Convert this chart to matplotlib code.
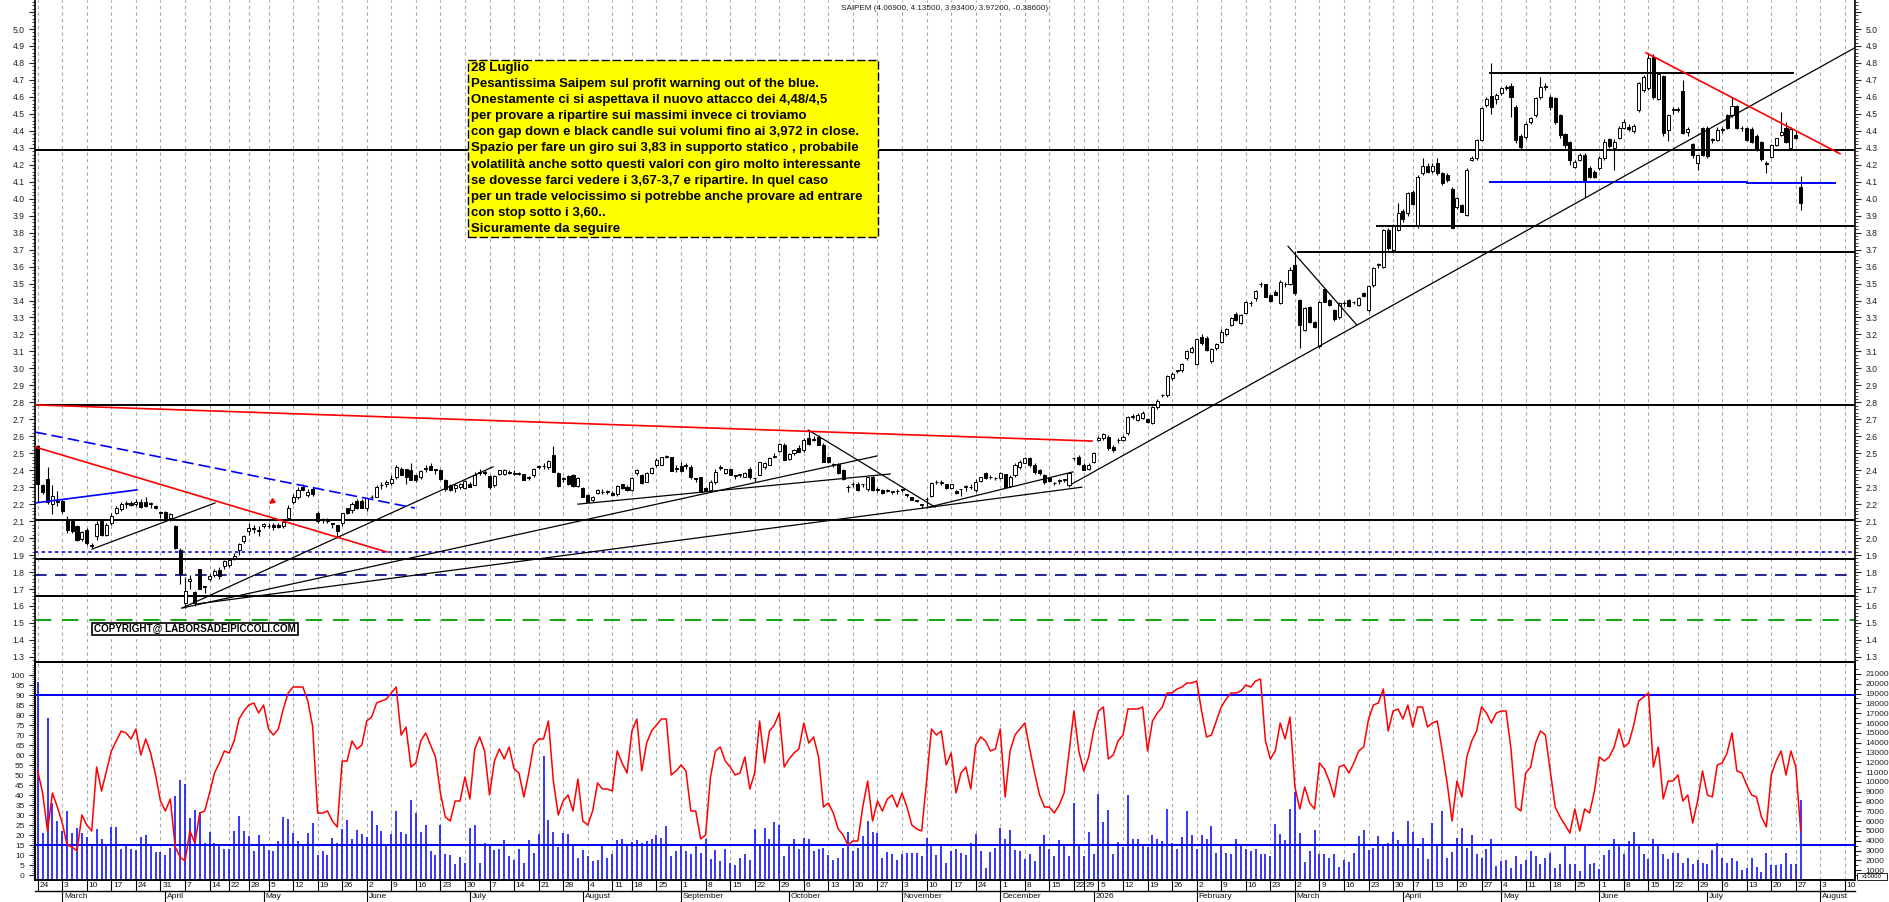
import numpy as np
import pandas as pd
import matplotlib
matplotlib.use("Agg")
import matplotlib.pyplot as plt
from matplotlib.patches import Rectangle

plt.rcParams['font.family'] = ['Liberation Sans', 'DejaVu Sans']

W, H = 1890, 902

# Borsa holidays inside the range (no candle)
holidays = ["2025-04-18", "2025-04-21", "2025-05-01", "2025-08-15", "2025-12-24",
            "2025-12-25", "2025-12-26", "2025-12-31", "2026-01-01", "2026-04-03",
            "2026-04-06", "2026-05-01"]

# daily candles: (open, high, low, close)
feb25 = [(2.54, 2.55, 2.215, 2.32), (2.31, 2.32, 2.26, 2.27), (2.35, 2.42, 2.20, 2.21),
         (2.20, 2.31, 2.14, 2.25), (2.22, 2.28, 2.19, 2.21)]
mar25 = [(2.22, 2.23, 2.15, 2.16), (2.11, 2.13, 2.03, 2.05), (2.10, 2.11, 2.03, 2.04),
         (2.07, 2.08, 1.98, 1.99), (1.995, 2.04, 1.98, 2.035), (2.05, 2.06, 1.96, 1.97),
         (1.96, 1.97, 1.94, 1.955), (2.01, 2.10, 1.99, 2.085), (2.10, 2.11, 2.01, 2.02),
         (2.02, 2.09, 2.01, 2.08), (2.09, 2.15, 2.08, 2.13), (2.15, 2.19, 2.14, 2.18),
         (2.17, 2.21, 2.16, 2.20), (2.20, 2.22, 2.18, 2.205), (2.205, 2.22, 2.19, 2.195),
         (2.20, 2.23, 2.19, 2.21), (2.21, 2.23, 2.18, 2.185), (2.215, 2.24, 2.185, 2.19),
         (2.205, 2.21, 2.18, 2.20), (2.19, 2.195, 2.17, 2.175), (2.155, 2.16, 2.12, 2.15)]
apr25 = [(2.155, 2.16, 2.11, 2.12), (2.12, 2.15, 2.10, 2.14), (2.07, 2.075, 1.935, 1.94),
         (1.93, 1.94, 1.73, 1.79), (1.62, 1.77, 1.59, 1.69), (1.75, 1.78, 1.70, 1.76),
         (1.68, 1.69, 1.60, 1.62), (1.82, 1.82, 1.70, 1.70), (1.715, 1.72, 1.675, 1.71),
         (1.76, 1.79, 1.75, 1.775), (1.78, 1.82, 1.77, 1.805), (1.81, 1.83, 1.76, 1.775),
         (1.835, 1.87, 1.82, 1.865), (1.84, 1.88, 1.83, 1.87), (1.885, 1.91, 1.87, 1.895),
         (1.93, 1.97, 1.90, 1.965), (1.985, 2.02, 1.97, 2.015), (2.04, 2.09, 2.02, 2.06),
         (2.06, 2.08, 2.03, 2.055), (2.05, 2.07, 2.01, 2.04)]
may25 = [(2.07, 2.09, 2.06, 2.085), (2.07, 2.09, 2.06, 2.072), (2.08, 2.09, 2.05, 2.063),
         (2.08, 2.09, 2.06, 2.063), (2.07, 2.11, 2.06, 2.095), (2.12, 2.195, 2.11, 2.18),
         (2.21, 2.26, 2.20, 2.24), (2.24, 2.30, 2.23, 2.285), (2.30, 2.32, 2.28, 2.285),
         (2.255, 2.29, 2.24, 2.27), (2.29, 2.30, 2.25, 2.26), (2.15, 2.16, 2.09, 2.10),
         (2.105, 2.12, 2.09, 2.11), (2.11, 2.12, 2.09, 2.10), (2.09, 2.09, 2.06, 2.085),
         (2.075, 2.08, 2.00, 2.04), (2.09, 2.15, 2.07, 2.145), (2.175, 2.18, 2.14, 2.146),
         (2.167, 2.21, 2.15, 2.20), (2.22, 2.23, 2.17, 2.18), (2.22, 2.23, 2.175, 2.18)]
jun25 = [(2.18, 2.24, 2.16, 2.235), (2.24, 2.255, 2.23, 2.245), (2.245, 2.31, 2.24, 2.30),
         (2.31, 2.33, 2.29, 2.315), (2.32, 2.34, 2.30, 2.33), (2.325, 2.37, 2.31, 2.35),
         (2.36, 2.43, 2.35, 2.42), (2.41, 2.42, 2.37, 2.37), (2.405, 2.41, 2.32, 2.36),
         (2.40, 2.44, 2.34, 2.345), (2.37, 2.38, 2.33, 2.345), (2.36, 2.40, 2.35, 2.395),
         (2.405, 2.43, 2.39, 2.415), (2.425, 2.44, 2.40, 2.40), (2.40, 2.41, 2.38, 2.405),
         (2.40, 2.41, 2.34, 2.346), (2.34, 2.35, 2.28, 2.29), (2.31, 2.32, 2.28, 2.285),
         (2.295, 2.32, 2.27, 2.31), (2.30, 2.325, 2.29, 2.32), (2.295, 2.34, 2.29, 2.335)]
jul25 = [(2.32, 2.33, 2.30, 2.30), (2.315, 2.39, 2.31, 2.37), (2.385, 2.41, 2.37, 2.39),
         (2.39, 2.40, 2.37, 2.385), (2.365, 2.37, 2.29, 2.30), (2.31, 2.37, 2.30, 2.365),
         (2.38, 2.40, 2.37, 2.40), (2.38, 2.41, 2.37, 2.40), (2.39, 2.40, 2.38, 2.385),
         (2.38, 2.40, 2.37, 2.382), (2.38, 2.39, 2.37, 2.38), (2.375, 2.38, 2.34, 2.345),
         (2.36, 2.365, 2.34, 2.357), (2.37, 2.415, 2.36, 2.41), (2.42, 2.43, 2.41, 2.421),
         (2.425, 2.44, 2.41, 2.424), (2.418, 2.46, 2.41, 2.455), (2.49, 2.543, 2.39, 2.392),
         (2.386, 2.39, 2.30, 2.307), (2.35, 2.36, 2.33, 2.353), (2.366, 2.37, 2.31, 2.32),
         (2.372, 2.38, 2.30, 2.307), (2.307, 2.36, 2.30, 2.356)]
aug25 = [(2.294, 2.30, 2.24, 2.24), (2.254, 2.26, 2.21, 2.215), (2.225, 2.25, 2.21, 2.245),
         (2.264, 2.29, 2.26, 2.284), (2.27, 2.29, 2.26, 2.274), (2.273, 2.285, 2.26, 2.274),
         (2.268, 2.275, 2.25, 2.254), (2.258, 2.31, 2.25, 2.306), (2.317, 2.32, 2.29, 2.298),
         (2.303, 2.31, 2.28, 2.284), (2.284, 2.36, 2.28, 2.352), (2.382, 2.41, 2.37, 2.40),
         (2.372, 2.38, 2.32, 2.323), (2.333, 2.39, 2.33, 2.382), (2.386, 2.42, 2.38, 2.411),
         (2.43, 2.47, 2.42, 2.461), (2.432, 2.48, 2.43, 2.48), (2.48, 2.49, 2.47, 2.481),
         (2.476, 2.48, 2.395, 2.398), (2.41, 2.43, 2.39, 2.412)]
sep25 = [(2.425, 2.45, 2.39, 2.398), (2.425, 2.44, 2.41, 2.426), (2.417, 2.43, 2.35, 2.358),
         (2.352, 2.355, 2.33, 2.35), (2.358, 2.36, 2.27, 2.27), (2.294, 2.30, 2.28, 2.28),
         (2.284, 2.34, 2.28, 2.333), (2.33, 2.41, 2.32, 2.392), (2.416, 2.43, 2.40, 2.418),
         (2.382, 2.41, 2.38, 2.405), (2.405, 2.41, 2.37, 2.372), (2.366, 2.37, 2.35, 2.366),
         (2.372, 2.38, 2.36, 2.372), (2.362, 2.39, 2.36, 2.386), (2.405, 2.42, 2.35, 2.358),
         (2.356, 2.36, 2.33, 2.354), (2.372, 2.45, 2.37, 2.45), (2.42, 2.45, 2.41, 2.44),
         (2.432, 2.48, 2.43, 2.47), (2.48, 2.50, 2.47, 2.485), (2.516, 2.56, 2.51, 2.555),
         (2.55, 2.56, 2.46, 2.46)]
oct25 = [(2.468, 2.50, 2.46, 2.496), (2.50, 2.525, 2.49, 2.52), (2.53, 2.55, 2.51, 2.51),
         (2.52, 2.59, 2.51, 2.578), (2.588, 2.63, 2.55, 2.553), (2.58, 2.60, 2.57, 2.582),
         (2.598, 2.61, 2.55, 2.55), (2.55, 2.56, 2.45, 2.45), (2.475, 2.48, 2.44, 2.45),
         (2.43, 2.44, 2.42, 2.435), (2.435, 2.44, 2.38, 2.382), (2.40, 2.41, 2.345, 2.347),
         (2.30, 2.31, 2.27, 2.30), (2.32, 2.33, 2.30, 2.318), (2.32, 2.33, 2.28, 2.284),
         (2.318, 2.32, 2.30, 2.32), (2.288, 2.36, 2.28, 2.358), (2.36, 2.37, 2.28, 2.284),
         (2.284, 2.30, 2.27, 2.285), (2.284, 2.29, 2.26, 2.265), (2.278, 2.29, 2.27, 2.28),
         (2.275, 2.28, 2.26, 2.274), (2.277, 2.29, 2.26, 2.278)]
nov25 = [(2.285, 2.29, 2.27, 2.284), (2.255, 2.26, 2.24, 2.254), (2.24, 2.245, 2.225, 2.225),
         (2.22, 2.225, 2.21, 2.219), (2.196, 2.20, 2.175, 2.196), (2.23, 2.24, 2.18, 2.231),
         (2.249, 2.33, 2.24, 2.327), (2.33, 2.34, 2.32, 2.333), (2.327, 2.34, 2.31, 2.327),
         (2.318, 2.32, 2.29, 2.298), (2.298, 2.32, 2.29, 2.318), (2.278, 2.285, 2.26, 2.264),
         (2.288, 2.29, 2.25, 2.287), (2.302, 2.31, 2.28, 2.303), (2.30, 2.32, 2.29, 2.30),
         (2.283, 2.35, 2.27, 2.333), (2.334, 2.36, 2.33, 2.362), (2.382, 2.39, 2.35, 2.352),
         (2.358, 2.37, 2.35, 2.358), (2.352, 2.36, 2.34, 2.352)]
dec25 = [(2.352, 2.39, 2.35, 2.382), (2.376, 2.38, 2.30, 2.303), (2.307, 2.37, 2.30, 2.362),
         (2.372, 2.44, 2.36, 2.431), (2.417, 2.46, 2.41, 2.45), (2.445, 2.48, 2.44, 2.47),
         (2.47, 2.48, 2.42, 2.431), (2.431, 2.44, 2.38, 2.392), (2.402, 2.41, 2.37, 2.382),
         (2.372, 2.38, 2.32, 2.333), (2.356, 2.36, 2.33, 2.337), (2.323, 2.33, 2.31, 2.323),
         (2.337, 2.35, 2.32, 2.337), (2.343, 2.35, 2.33, 2.343), (2.313, 2.39, 2.30, 2.382),
         (2.47, 2.48, 2.46, 2.47), (2.48, 2.49, 2.43, 2.435), (2.431, 2.44, 2.40, 2.402),
         (2.405, 2.44, 2.40, 2.43)]
jan26 = [(2.45, 2.51, 2.44, 2.503), (2.58, 2.60, 2.57, 2.588), (2.588, 2.62, 2.58, 2.614),
         (2.598, 2.61, 2.52, 2.529), (2.539, 2.55, 2.51, 2.519), (2.578, 2.59, 2.56, 2.578),
         (2.578, 2.61, 2.57, 2.598), (2.618, 2.72, 2.61, 2.712), (2.716, 2.73, 2.70, 2.716),
         (2.696, 2.74, 2.69, 2.726), (2.706, 2.75, 2.70, 2.74), (2.70, 2.71, 2.68, 2.686),
         (2.676, 2.78, 2.67, 2.77), (2.77, 2.82, 2.76, 2.81), (2.843, 2.85, 2.83, 2.843),
         (2.843, 2.96, 2.83, 2.955), (2.942, 2.98, 2.93, 2.967), (2.987, 2.99, 2.97, 2.987),
         (2.99, 3.03, 2.98, 3.024), (3.06, 3.11, 3.05, 3.105), (3.099, 3.13, 3.09, 3.118)]
feb26 = [(3.026, 3.18, 3.02, 3.172), (3.187, 3.20, 3.14, 3.148), (3.178, 3.19, 3.10, 3.109),
         (3.046, 3.12, 3.03, 3.114), (3.118, 3.15, 3.11, 3.142), (3.158, 3.23, 3.15, 3.217),
         (3.203, 3.24, 3.19, 3.232), (3.256, 3.30, 3.25, 3.295), (3.321, 3.33, 3.28, 3.285),
         (3.27, 3.32, 3.26, 3.315), (3.325, 3.40, 3.32, 3.393), (3.384, 3.40, 3.37, 3.384),
         (3.413, 3.46, 3.40, 3.458), (3.497, 3.51, 3.48, 3.497), (3.497, 3.50, 3.42, 3.423),
         (3.433, 3.44, 3.39, 3.399), (3.452, 3.46, 3.43, 3.433), (3.384, 3.52, 3.38, 3.511),
         (3.497, 3.51, 3.48, 3.497), (3.497, 3.60, 3.49, 3.58)]
mar26 = [(3.61, 3.694, 3.43, 3.443), (3.403, 3.41, 3.118, 3.256), (3.227, 3.36, 3.22, 3.354),
         (3.36, 3.37, 3.27, 3.275), (3.271, 3.28, 3.24, 3.246), (3.132, 3.40, 3.12, 3.393),
         (3.466, 3.47, 3.39, 3.393), (3.403, 3.41, 3.37, 3.374), (3.344, 3.35, 3.28, 3.291),
         (3.305, 3.39, 3.29, 3.384), (3.384, 3.40, 3.37, 3.384), (3.403, 3.41, 3.36, 3.368),
         (3.39, 3.40, 3.38, 3.39), (3.374, 3.42, 3.37, 3.417), (3.443, 3.45, 3.42, 3.429),
         (3.344, 3.49, 3.33, 3.486), (3.492, 3.60, 3.48, 3.59), (3.61, 3.62, 3.59, 3.61),
         (3.60, 3.82, 3.59, 3.816), (3.816, 3.83, 3.70, 3.708), (3.698, 3.85, 3.69, 3.841),
         (3.816, 3.977, 3.81, 3.918)]
apr26 = [(3.93, 3.94, 3.86, 3.88), (3.914, 4.04, 3.90, 4.035), (4.04, 4.05, 3.96, 3.97),
         (3.846, 4.14, 3.83, 4.13), (4.15, 4.24, 4.14, 4.195), (4.19, 4.21, 4.15, 4.16),
         (4.165, 4.21, 4.15, 4.195), (4.21, 4.24, 4.14, 4.15), (4.15, 4.16, 4.08, 4.09),
         (4.14, 4.15, 4.10, 4.11), (4.06, 4.07, 3.826, 3.83), (3.953, 4.01, 3.94, 4.002),
         (3.963, 3.97, 3.92, 3.924), (3.904, 4.18, 3.90, 4.17), (4.228, 4.25, 4.22, 4.242),
         (4.238, 4.35, 4.23, 4.346), (4.346, 4.54, 4.34, 4.532), (4.552, 4.60, 4.54, 4.588),
         (4.605, 4.798, 4.50, 4.538), (4.59, 4.62, 4.56, 4.61)]
may26 = [(4.62, 4.66, 4.61, 4.65), (4.66, 4.67, 4.64, 4.65), (4.664, 4.68, 4.48, 4.597),
         (4.538, 4.55, 4.33, 4.346), (4.37, 4.38, 4.29, 4.307), (4.366, 4.45, 4.35, 4.44),
         (4.454, 4.48, 4.44, 4.473), (4.494, 4.60, 4.48, 4.592), (4.601, 4.72, 4.59, 4.656),
         (4.664, 4.68, 4.64, 4.656), (4.60, 4.61, 4.52, 4.54), (4.592, 4.60, 4.44, 4.454),
         (4.493, 4.50, 4.36, 4.375), (4.38, 4.39, 4.30, 4.316), (4.336, 4.34, 4.20, 4.228),
         (4.188, 4.23, 4.18, 4.218), (4.228, 4.27, 4.22, 4.258), (4.258, 4.27, 4.01, 4.10),
         (4.179, 4.19, 4.12, 4.13), (4.16, 4.17, 4.12, 4.126)]
jun26 = [(4.179, 4.25, 4.17, 4.238), (4.238, 4.35, 4.23, 4.336), (4.35, 4.36, 4.30, 4.313),
         (4.297, 4.35, 4.17, 4.336), (4.356, 4.43, 4.35, 4.415), (4.415, 4.47, 4.41, 4.454),
         (4.425, 4.44, 4.40, 4.41), (4.40, 4.44, 4.39, 4.43), (4.523, 4.69, 4.51, 4.68),
         (4.64, 4.73, 4.63, 4.72), (4.65, 4.86, 4.64, 4.827), (4.837, 4.85, 4.59, 4.601),
         (4.586, 4.74, 4.58, 4.735), (4.723, 4.73, 4.37, 4.385), (4.405, 4.50, 4.34, 4.493),
         (4.52, 4.54, 4.50, 4.527), (4.52, 4.54, 4.51, 4.527), (4.637, 4.70, 4.38, 4.385),
         (4.395, 4.42, 4.37, 4.41), (4.32, 4.33, 4.24, 4.258), (4.209, 4.26, 4.17, 4.258),
         (4.415, 4.42, 4.25, 4.258)]
jul26 = [(4.415, 4.43, 4.24, 4.25), (4.346, 4.36, 4.33, 4.346), (4.346, 4.42, 4.34, 4.405),
         (4.405, 4.42, 4.39, 4.405), (4.493, 4.50, 4.41, 4.415), (4.493, 4.60, 4.48, 4.546),
         (4.546, 4.55, 4.41, 4.415), (4.415, 4.43, 4.40, 4.415), (4.415, 4.42, 4.34, 4.346),
         (4.41, 4.42, 4.33, 4.336), (4.37, 4.38, 4.28, 4.287), (4.336, 4.34, 4.22, 4.232),
         (4.21, 4.22, 4.15, 4.204), (4.244, 4.32, 4.24, 4.316), (4.316, 4.36, 4.31, 4.356),
         (4.375, 4.51, 4.37, 4.395), (4.415, 4.45, 4.33, 4.336), (4.297, 4.42, 4.29, 4.41),
         (4.375, 4.40, 4.35, 4.358), (4.069, 4.135, 3.934, 3.972)]

# oscillator (left scale 0-100), one value per session
osc = [52, 41, 22, 41, 34, 26, 15, 14, 12, 30,
       25, 22, 54, 42, 52, 62, 67, 72, 71, 68,
       73, 60, 68, 61, 50, 37, 32, 38, 14, 9,
       7, 22, 16, 31, 32, 41, 51, 56, 62, 61,
       67, 78, 82, 85, 86, 81, 85, 73, 70, 73,
       83, 91, 94, 94, 94, 87, 74, 31, 31, 32,
       27, 24, 57, 57, 67, 63, 65, 77, 79, 86,
       87, 88, 91, 94, 70, 74, 54, 56, 67, 71,
       65, 59, 41, 29, 27, 37, 37, 49, 38, 63,
       69, 62, 40, 57, 63, 58, 64, 53, 51, 39,
       51, 65, 68, 68, 77, 47, 30, 37, 40, 32,
       48, 27, 25, 32, 46, 43, 43, 42, 62, 56,
       51, 72, 78, 52, 66, 72, 75, 78, 78, 50,
       52, 55, 52, 32, 32, 18, 20, 49, 62, 64,
       57, 54, 50, 51, 59, 43, 51, 77, 56, 72,
       75, 81, 54, 58, 61, 63, 76, 66, 69, 59,
       34, 36, 31, 23, 20, 15, 17, 17, 34, 47,
       27, 37, 32, 38, 40, 34, 41, 34, 25, 23,
       22, 47, 73, 70, 72, 55, 61, 41, 51, 54,
       43, 65, 69, 67, 62, 63, 73, 39, 62, 70,
       73, 76, 63, 51, 40, 34, 34, 31, 35, 41,
       61, 82, 62, 52, 59, 72, 82, 84, 58, 60,
       67, 70, 83, 83, 83, 84, 62, 77, 81, 84,
       91, 91, 93, 94, 96, 96, 97, 82, 69, 70,
       77, 84, 88, 91, 91, 92, 95, 94, 97, 98,
       67, 58, 62, 76, 68, 79, 44, 33, 44, 36,
       33, 56, 53, 47, 39, 54, 55, 51, 56, 62,
       64, 78, 85, 86, 93, 72, 82, 83, 78, 85,
       74, 84, 84, 74, 76, 77, 62, 46, 27, 47,
       39, 59, 67, 72, 84, 81, 76, 81, 82, 82,
       63, 34, 32, 51, 54, 66, 72, 70, 52, 34,
       29, 25, 21, 33, 22, 33, 31, 42, 59, 57,
       59, 64, 73, 64, 66, 75, 87, 89, 91, 54,
       64, 38, 47, 47, 50, 37, 40, 26, 37, 52,
       40, 39, 55, 56, 61, 71, 52, 51, 45, 40,
       39, 29, 24, 50, 57, 62, 50, 62, 54, 22]

# volume in thousands (right scale)
vol = [20.2, 4.8, 16.5, 7.8, 6.0, 5.0, 7.0, 4.8, 5.3, 4.8,
       4.4, 3.7, 5.2, 4.2, 3.7, 5.4, 5.4, 3.2, 3.5, 3.2,
       3.1, 4.4, 4.6, 3.5, 2.9, 2.9, 2.5, 3.3, 8.6, 10.2,
       9.8, 6.3, 7.1, 6.9, 3.8, 4.9, 3.8, 3.6, 3.2, 3.2,
       5.0, 6.5, 5.0, 4.5, 3.0, 4.6, 3.6, 3.1, 3.0, 4.0,
       6.4, 6.2, 4.8, 4.0, 3.5, 4.8, 5.8, 2.5, 3.0, 2.5,
       4.3, 3.8, 5.2, 6.1, 4.2, 5.1, 4.7, 4.4, 7.0, 5.6,
       5.0, 3.5, 4.7, 7.0, 4.9, 4.7, 8.2, 6.8, 4.9, 5.6,
       3.0, 2.5, 5.6, 2.7, 2.5, 1.6, 2.3, 1.7, 5.3, 5.6,
       1.7, 3.8, 3.5, 3.1, 3.2, 4.1, 2.4, 2.0, 3.2, 1.7,
       4.1, 2.8, 4.7, 12.6, 6.1, 4.9, 3.4, 4.8, 4.7, 3.6,
       2.2, 3.1, 2.4, 1.9, 2.0, 3.7, 2.2, 2.7, 4.1, 4.2,
       3.7, 3.9, 4.1, 3.8, 4.0, 4.2, 4.6, 4.3, 5.5, 2.4,
       3.0, 3.7, 3.0, 2.7, 3.7, 2.8, 4.2, 2.1, 3.1, 1.9,
       3.2, 1.7, 1.5, 2.2, 2.6, 2.0, 5.2, 3.5, 5.3, 4.2,
       5.9, 5.6, 2.4, 3.7, 4.2, 3.2, 4.3, 4.2, 3.0, 3.2,
       3.3, 2.5, 2.0, 2.2, 3.3, 4.9, 3.0, 3.3, 4.5, 6.0,
       4.9, 4.8, 2.2, 2.9, 2.6, 2.0, 2.6, 2.8, 2.8, 2.8,
       2.4, 4.3, 3.5, 2.5, 3.7, 1.7, 3.0, 3.2, 2.8, 2.5,
       3.8, 4.7, 3.0, 1.2, 2.9, 3.3, 5.3, 4.2, 5.1, 3.1,
       3.0, 2.1, 2.6, 1.9, 3.5, 4.6, 3.2, 2.4, 4.1, 3.5,
       2.4, 7.8, 3.5, 2.4, 4.9, 2.6, 8.8, 5.9, 7.1, 2.6,
       3.9, 3.4, 8.7, 4.2, 4.2, 3.5, 3.4, 4.6, 4.2, 4.0,
       7.2, 3.8, 3.2, 4.4, 7.0, 4.6, 3.2, 4.6, 4.2, 5.5,
       2.8, 3.7, 2.8, 2.7, 4.2, 3.5, 3.2, 3.0, 3.2, 2.7,
       2.6, 2.4, 5.7, 4.7, 4.1, 7.2, 9.0, 4.8, 1.8, 3.0,
       5.1, 2.7, 2.6, 2.2, 2.6, 1.3, 2.0, 1.8, 2.8, 4.5,
       5.1, 3.1, 3.3, 4.5, 3.7, 3.8, 4.9, 4.1, 3.7, 6.0,
       4.9, 3.3, 4.3, 2.1, 5.8, 3.5, 7.0, 2.2, 2.9, 4.3,
       5.3, 3.3, 4.6, 2.6, 2.2, 3.2, 4.2, 1.4, 1.9, 2.0,
       1.2, 2.4, 1.6, 2.0, 3.0, 2.4, 1.6, 2.2, 2.8, 1.2,
       1.6, 3.5, 1.6, 1.6, 0.9, 3.7, 1.6, 1.7, 1.1, 2.5,
       3.1, 4.2, 3.6, 2.6, 4.0, 4.9, 3.7, 2.6, 2.1, 4.2,
       3.7, 2.7, 2.1, 2.8, 2.8, 1.7, 2.2, 1.6, 2.0, 1.7,
       1.6, 3.1, 3.8, 2.2, 1.7, 2.2, 1.9, 1.0, 1.2, 2.2,
       1.3, 0.8, 2.8, 1.5, 1.5, 1.6, 2.8, 1.6, 1.6, 8.2]

# drawn analysis: horizontal levels and trendlines (session index, price)
lev_black = [4.285, 2.785, 2.107, 1.877, 1.659]
lev_blue_dot = [1.918]
lev_navy_dash = [1.783]
lev_green_dash = [1.517]
seg_black = [(272.7, 371.0, 3.84), (256.6, 371.0, 3.686), (295.7, 357.4, 4.74)]
seg_blue = [(295.7, 348.0, 4.098), (348.0, 366.0, 4.092)]
tl_black = [((210.6, 2.319), (370.05, 4.89)), ((11.05, 1.935), (36.1, 2.207)),
            ((29.4, 1.588), (92.7, 2.42)), ((29.4, 1.588), (170.9, 2.484)),
            ((32.4, 1.612), (212.6, 2.30)), ((110.0, 2.20), (173.6, 2.378)),
            ((156.9, 2.637), (182.7, 2.183)), ((181.1, 2.18), (210.8, 2.39)),
            ((254.6, 3.72), (268.6, 3.256))]
tl_red = [((-0.55, 2.785), (214.7, 2.572)), ((-0.55, 2.537), (71.1, 1.918)),
          ((327.5, 4.86), (367.0, 4.265))]
tl_blue = [((-0.55, 2.207), (20.2, 2.284))]
tl_blue_dash = [((-0.55, 2.625), (76.8, 2.177))]
osc_levels = [90, 15]

note = ["28 Luglio",
        "Pesantissima Saipem sul profit warning out of the blue.",
        "Onestamente ci si aspettava il nuovo attacco dei 4,48/4,5",
        "per provare a ripartire sui massimi invece ci troviamo",
        "con gap down e black candle sui volumi fino ai 3,972 in close.",
        "Spazio per fare un giro sui 3,83 in supporto statico , probabile",
        "volatilità anche sotto questi valori con giro molto interessante",
        "se dovesse farci vedere i 3,67-3,7 e ripartire. In quel caso",
        "per un trade velocissimo si potrebbe anche provare ad entrare",
        "con stop sotto i 3,60..",
        "Sicuramente da seguire"]
title = "SAIPEM (4.06900, 4.13500, 3.93400, 3.97200, -0.38600)"

# ---------------------------------------------------------------------------
months = [feb25, mar25, apr25, may25, jun25, jul25, aug25, sep25, oct25, nov25,
          dec25, jan26, feb26, mar26, apr26, may26, jun26, jul26]
ohlc = np.array([row for m in months for row in m])
n = len(ohlc)
osc = np.array(osc[:n], dtype=float)
vol = np.array(vol[:n], dtype=float)

days = pd.bdate_range("2025-02-24", "2026-08-21")
days = days[~days.isin(pd.to_datetime(holidays))]

XMIN, XMAX = -0.55, 370.05


def fx(px):
    return px / W


def fy(py):
    return 1 - py / H


fig = plt.figure(figsize=(W / 100, H / 100), dpi=100)
ax = fig.add_axes([fx(35), fy(662), fx(1855) - fx(35), (662) / H])
axo = fig.add_axes([fx(35), fy(880), fx(1855) - fx(35), (880 - 662) / H])
axv = axo.twinx()
axo.set_zorder(axv.get_zorder() + 1)
axo.patch.set_visible(False)

# week grid
wd = days.weekday.values
wk_idx = np.flatnonzero(np.r_[True, wd[1:] <= wd[:-1]])
mo = days.month.values
mo_idx = np.flatnonzero(np.r_[True, mo[1:] != mo[:-1]])[1:]
wk_idx = wk_idx[wk_idx < XMAX - 0.5]
mo_idx = mo_idx[mo_idx < XMAX - 0.5]
for a in (ax, axv):
    for k in wk_idx:
        a.axvline(k, color='#a8a8a8', lw=0.8, ls=(0, (3, 3)), zorder=0)

# candles
x = np.arange(n)
o, h, l, c = ohlc.T
up = c >= o
lo = np.minimum(o, c)
bh = np.maximum(np.abs(c - o), 0.003)
ax.vlines(x, l, h, color='black', lw=0.8, zorder=3)
ax.bar(x[up], bh[up], bottom=lo[up], width=0.62, color='white', edgecolor='black', lw=0.7, zorder=4)
ax.bar(x[~up], bh[~up], bottom=lo[~up], width=0.62, color='black', edgecolor='black', lw=0.7, zorder=4)

# levels and trendlines
for p in lev_black:
    ax.axhline(p, color='black', lw=1.4, zorder=2)
for p in lev_blue_dot:
    ax.axhline(p, color='#0000ff', lw=1.2, ls=(0, (2, 2)), zorder=2)
for p in lev_navy_dash:
    ax.axhline(p, color='#000080', lw=1.2, ls=(0, (7, 5)), zorder=2)
for p in lev_green_dash:
    ax.axhline(p, color='#00a000', lw=1.3, ls=(0, (9, 6)), zorder=2)
for x0, x1, p in seg_black:
    ax.plot([x0, x1], [p, p], color='black', lw=1.4, zorder=5)
for x0, x1, p in seg_blue:
    ax.plot([x0, x1], [p, p], color='#0000ff', lw=1.4, zorder=5)
for (x0, p0), (x1, p1) in tl_black:
    ax.plot([x0, x1], [p0, p1], color='black', lw=0.9, zorder=5)
for (x0, p0), (x1, p1) in tl_red:
    ax.plot([x0, x1], [p0, p1], color='#ff0000', lw=1.2, zorder=5)
for (x0, p0), (x1, p1) in tl_blue:
    ax.plot([x0, x1], [p0, p1], color='#0000ff', lw=1.2, zorder=5)
for (x0, p0), (x1, p1) in tl_blue_dash:
    ax.plot([x0, x1], [p0, p1], color='#0000ff', lw=1.2, ls=(0, (7, 3)), zorder=5)
ax.annotate('', xy=(46.6, 2.192), xytext=(48.4, 2.228),
            arrowprops=dict(arrowstyle='-|>', color='red', lw=1.3, mutation_scale=7))

ax.set_xlim(XMIN, XMAX)
ax.set_ylim(1.2699, 5.1709)
ax.spines['top'].set_visible(False)
for s in ('left', 'right', 'bottom'):
    ax.spines[s].set_linewidth(1.2)
ax.set_xticks([])
pticks = np.round(np.arange(13, 52) / 10.0, 1)
ax.set_yticks(pticks)
ax.set_yticklabels([f"{v:.1f}" if v < 5.05 else "" for v in pticks])
ax.set_yticks(np.arange(128, 518, 2) / 100.0, minor=True)
ax.tick_params(axis='y', which='both', left=True, right=True, labelleft=True,
               labelright=True, direction='out', colors='#222222', labelsize=6.2)
ax.tick_params(axis='y', which='major', length=4, width=0.8)
ax.tick_params(axis='y', which='minor', length=2.5, width=0.6)

# lower panel: volume + oscillator
axv.vlines(x, 0, vol, color='#0000ff', lw=1.1, zorder=2)
axv.set_ylim(0, 22.22)
axv.set_yticks(np.arange(1, 22))
axv.set_yticklabels([str(k * 1000) for k in range(1, 22)])
axv.set_yticks(np.arange(0.5, 22, 0.5), minor=True)
axv.tick_params(axis='y', which='both', direction='out', colors='#222222', labelsize=6)
axv.tick_params(axis='y', which='major', length=4, width=0.8)
axv.tick_params(axis='y', which='minor', length=2, width=0.6)

axo.plot(x, osc, color='#ff0000', lw=1.1, zorder=4)
for v in osc_levels:
    axo.axhline(v, color='#0000ff', lw=1.4, zorder=3)
axo.set_xlim(XMIN, XMAX)
axv.set_xlim(XMIN, XMAX)
axo.set_ylim(-2.5, 106.5)
axo.set_yticks(np.arange(0, 101, 5))
axo.set_yticks(np.arange(0, 106, 1), minor=True)
axo.tick_params(axis='y', which='both', direction='out', colors='#222222', labelsize=6)
axo.tick_params(axis='y', which='major', length=4, width=0.8)
axo.tick_params(axis='y', which='minor', length=2, width=0.5)
axo.set_xticks([])
axv.set_xticks([])
for a in (axo, axv):
    for s in a.spines.values():
        s.set_linewidth(1.2)

# date rows under the lower panel
tr = axo.get_xaxis_transform()
r1, r2 = -0.0505, -0.101
axo.plot([XMIN, XMAX], [r1, r1], transform=tr, color='black', lw=1.0, clip_on=False)
for k in wk_idx:
    axo.plot([k, k], [0, r1], transform=tr, color='black', lw=0.8, clip_on=False)
    axo.text(k + 0.35, -0.026, str(days[k].day), transform=tr, fontsize=6,
             ha='left', va='center', color='#111111', clip_on=False)
for k in mo_idx:
    axo.plot([k, k], [r1, r2], transform=tr, color='black', lw=0.8, clip_on=False)
    name = str(days[k].year) if days[k].month == 1 else days[k].strftime('%B')
    axo.text(k + 0.35, -0.077, name, transform=tr, fontsize=6,
             ha='left', va='center', color='#111111', clip_on=False)

# title and annotation boxes
fig.text(fx(945), fy(8), title, fontsize=5.9, ha='center', va='center', color='#222222')

fig.patches.append(Rectangle((fx(468), fy(237)), fx(878) - fx(468), (237 - 60) / H,
                             transform=fig.transFigure, facecolor='#ffff00',
                             edgecolor='black', lw=1.0, ls=(0, (6, 2)), zorder=10))
for k, line in enumerate(note):
    fig.text(fx(471), fy(67.7 + k * 16.15), line, fontsize=9.5, fontweight='bold',
             ha='left', va='center', color='black', zorder=11)

fig.patches.append(Rectangle((fx(92), fy(635)), fx(298) - fx(92), 12 / H,
                             transform=fig.transFigure, facecolor='white',
                             edgecolor='black', lw=1.2, zorder=10))
fig.text(fx(195), fy(629), "COPYRIGHT@ LABORSADEIPICCOLI.COM", fontsize=7.1,
         fontweight='bold', ha='center', va='center', color='black', zorder=11)

fig.patches.append(Rectangle((fx(1857), fy(880)), 30 / W, 7 / H, transform=fig.transFigure,
                             facecolor='white', edgecolor='black', lw=0.6, zorder=10))
fig.text(fx(1872), fy(876.5), "x10000", fontsize=4.3, ha='center', va='center', zorder=11)

fig.savefig("out.png", dpi=100)
